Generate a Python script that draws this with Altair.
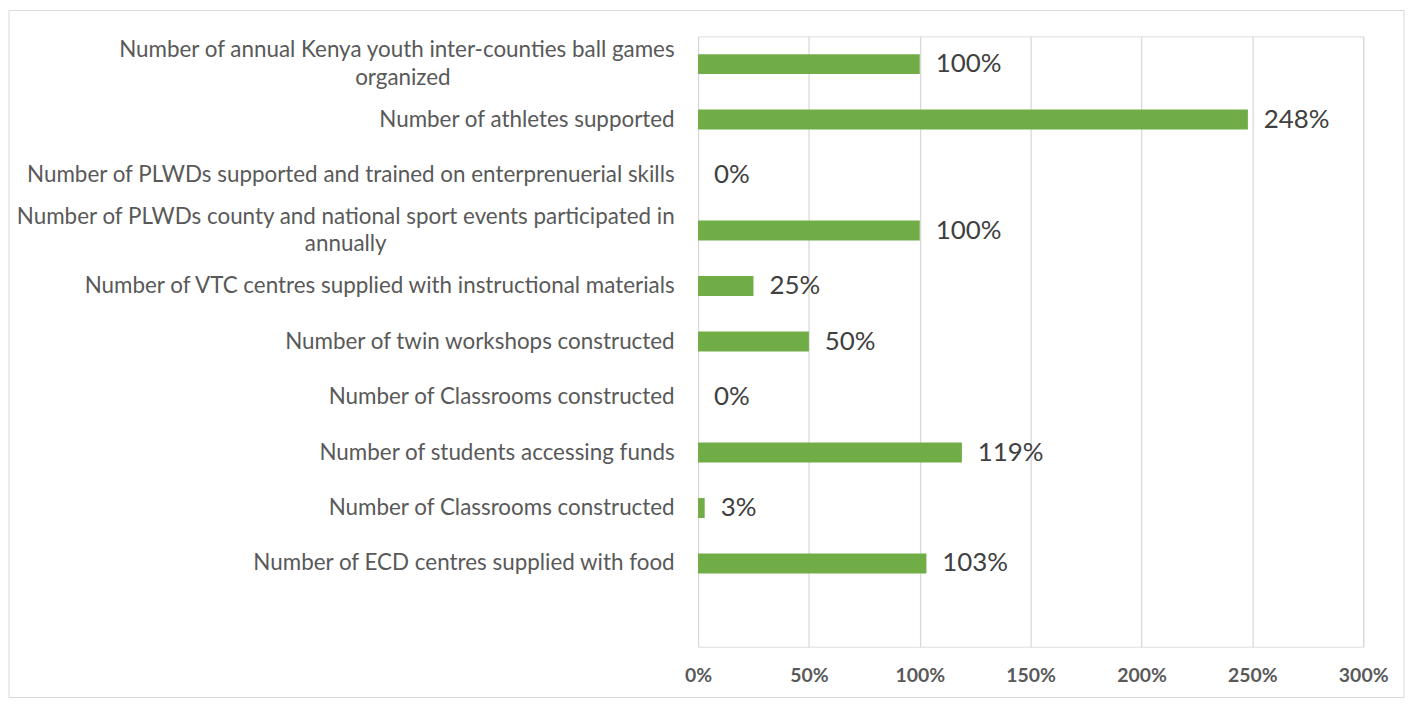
import altair as alt
import pandas as pd

categories = [
    ["Number of annual Kenya youth inter-counties ball games", "organized"],
    ["Number of athletes supported"],
    ["Number of PLWDs  supported and trained on enterprenuerial skills"],
    ["Number of PLWDs county and national sport events participated in", "annually"],
    ["Number of VTC centres supplied with instructional materials"],
    ["Number of twin workshops constructed"],
    ["Number of Classrooms constructed"],
    ["Number of students accessing funds"],
    ["Number of Classrooms constructed"],
    ["Number of ECD centres supplied with food"],
]
values = [1.00, 2.48, 0.00, 1.00, 0.25, 0.50, 0.00, 1.19, 0.03, 1.03]
x_ticks = [0, 0.5, 1.0, 1.5, 2.0, 2.5, 3.0]

BLANK = "\u2800"
# pad second lines so they look centred under the first line (Excel style)
second_pad = {0: 14, 3: 18}

ids = [f"c{i}" for i in range(len(categories))]
label_arrays = []
for i, lines in enumerate(categories):
    if len(lines) == 1:
        label_arrays.append(lines[0])
    else:
        label_arrays.append([lines[0], lines[1] + BLANK * second_pad.get(i, 0)])

wrapped_ids = [cid for cid, lines in zip(ids, categories) if len(lines) > 1]
domain = ids + ["c_empty"]

def js(s):
    return "'" + s.replace("'", "\\'") + "'"

parts = []
for cid, lab in zip(ids, label_arrays):
    if isinstance(lab, list):
        parts.append(f"{cid}: [" + ", ".join(js(l) for l in lab) + "]")
    else:
        parts.append(f"{cid}: {js(lab)}")
parts.append("c_empty: ''")
label_expr = "{" + ", ".join(parts) + "}[datum.value]"
wrap_test = " || ".join(f"datum.value == '{w}'" for w in wrapped_ids)

df = pd.DataFrame({"id": ids, "value": values})

FONT = "Lato, Liberation Sans, sans-serif"

y_enc = alt.Y(
    "id:N",
    scale=alt.Scale(domain=domain, paddingInner=0.64, paddingOuter=0.32),
    axis=alt.Axis(
        title=None, labelExpr=label_expr, domain=False, ticks=False,
        labelPadding=24, labelLimit=800, labelFontSize=22.5, labelColor="#595959",
        labelFont=FONT, labelAlign="right", labelBaseline="middle", grid=False,
        labelLineHeight=28,
        labelOffset={"condition": {"test": wrap_test, "value": -14}, "value": 0},
    ),
)
x_enc = alt.X(
    "value:Q",
    scale=alt.Scale(domain=[0, 3], nice=False),
    axis=alt.Axis(
        title=None, values=x_ticks, format=".0%", domain=False, ticks=False,
        grid=True, gridColor="#D9D9D9", gridWidth=1.3, labelFontSize=19.5,
        labelFontWeight="bold", labelColor="#595959", labelFont=FONT,
        labelPadding=20, labelFlush=False,
    ),
)

bars = alt.Chart(df).mark_bar(color="#70AD47").encode(x=x_enc, y=y_enc)
texts = alt.Chart(df).mark_text(
    align="left", baseline="middle", dx=16, fontSize=26, color="#404040", font=FONT
).encode(x="value:Q", y=alt.Y("id:N"), text=alt.Text("value:Q", format=".0%"))

border = alt.Chart(pd.DataFrame({"a": [0]})).mark_rect(
    fill=None, stroke="#D9D9D9", strokeWidth=1
).encode(
    x=alt.value(-692), x2=alt.value(709), y=alt.value(-26), y2=alt.value(664)
)

chart = alt.layer(border, bars, texts).properties(
    width=668, height=613,
    autosize=alt.AutoSizeParams(type="none"),
    padding={"left": 693, "top": 27, "right": 46, "bottom": 56},
).configure_view(strokeWidth=0, stroke="transparent").configure(background="white")

chart.save("out.html", embed_options={"renderer": "svg", "actions": False})
